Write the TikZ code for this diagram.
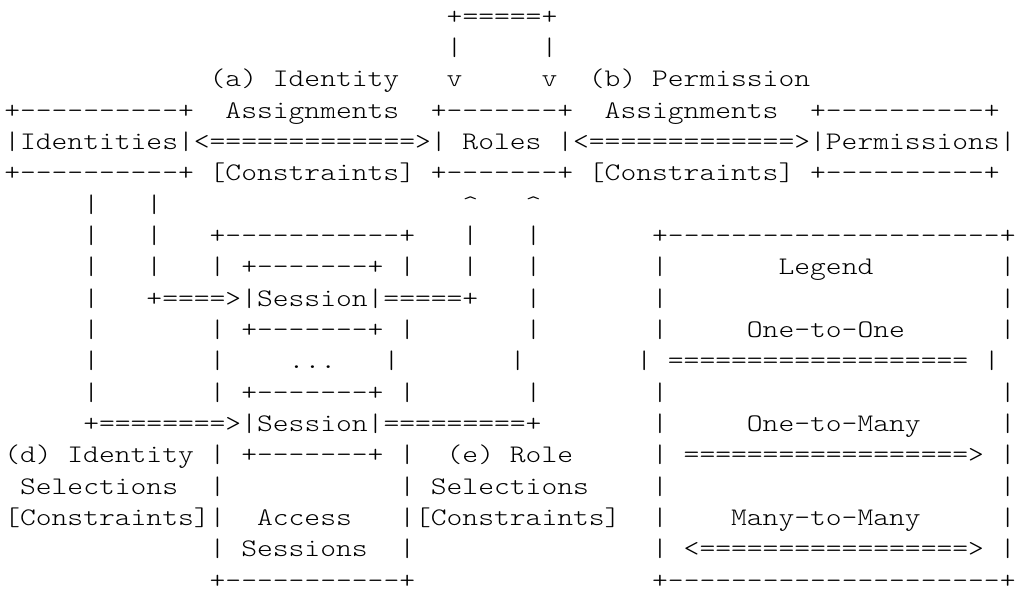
\documentclass[tikz,border=0pt]{standalone}
\usepackage{fontspec}
\setmonofont{lmmonolt10-regular.otf}[FakeStretch=1.19]
\newcommand\blanks[1]{\hspace*{#1\fontcharwd\font`x}}
\newcommand\uptip{\textasciicircum}
\begin{document}
\begin{tikzpicture}
  [x=11.85pt,y=-23.5125pt,every node/.style={anchor=base west,inner sep=0pt,
   font=\ttfamily\fontsize{18.97pt}{23.5pt}\selectfont}]
  \path[use as bounding box,fill=white] (-3pt,-5.5125pt) rectangle (759pt,-450.2625pt);
  % top loop into Roles
  \node (row1) at (0,1) {\blanks{28}+=====+};
  \node (row2) at (0,2) {\blanks{28}|\blanks{5}|};
  \node (row3) at (0,3) {\blanks{13}(a) Identity\blanks{3}v\blanks{5}v\blanks{2}(b) Permission};
  % identities, roles, permissions
  \node (row4) at (0,4) {+----------+\blanks{2}Assignments\blanks{2}+-------+\blanks{2}Assignments\blanks{2}+----------+};
  \node (row5) at (0,5) {|Identities|<=============>| Roles |<=============>|Permissions|};
  \node (row6) at (0,6) {+----------+ [Constraints] +-------+ [Constraints] +----------+};
  \node (row7) at (0,7) {\blanks{5}|\blanks{3}|\blanks{19}\uptip\blanks{3}\uptip};
  % sessions and legend
  \node (row8) at (0,8) {\blanks{5}|\blanks{3}|\blanks{3}+-----------+\blanks{3}|\blanks{3}|\blanks{7}+---------------------+};
  \node (row9) at (0,9) {\blanks{5}|\blanks{3}|\blanks{3}| +-------+ |\blanks{3}|\blanks{3}|\blanks{7}|\blanks{7}Legend\blanks{8}|};
  \node (row10) at (0,10) {\blanks{5}|\blanks{3}+====>|Session|=====+\blanks{3}|\blanks{7}|\blanks{21}|};
  \node (row11) at (0,11) {\blanks{5}|\blanks{7}| +-------+ |\blanks{7}|\blanks{7}|\blanks{5}One-to-One\blanks{6}|};
  \node (row12) at (0,12) {\blanks{5}|\blanks{7}|\blanks{4}...\blanks{3}|\blanks{7}|\blanks{7}| =================== |};
  \node (row13) at (0,13) {\blanks{5}|\blanks{7}| +-------+ |\blanks{7}|\blanks{7}|\blanks{21}|};
  \node (row14) at (0,14) {\blanks{5}+========>|Session|=========+\blanks{7}|\blanks{5}One-to-Many\blanks{5}|};
  \node (row15) at (0,15) {(d) Identity | +-------+ |\blanks{2}(e) Role\blanks{5}| ==================> |};
  \node (row16) at (0,16) {\blanks{1}Selections\blanks{2}|\blanks{11}| Selections\blanks{4}|\blanks{21}|};
  \node (row17) at (0,17) {[Constraints]|\blanks{2}Access\blanks{3}|[Constraints]\blanks{2}|\blanks{4}Many-to-Many\blanks{5}|};
  \node (row18) at (0,18) {\blanks{13}| Sessions\blanks{2}|\blanks{15}| <=================> |};
  \node (row19) at (0,19) {\blanks{13}+-----------+\blanks{15}+---------------------+};
\end{tikzpicture}
\end{document}
